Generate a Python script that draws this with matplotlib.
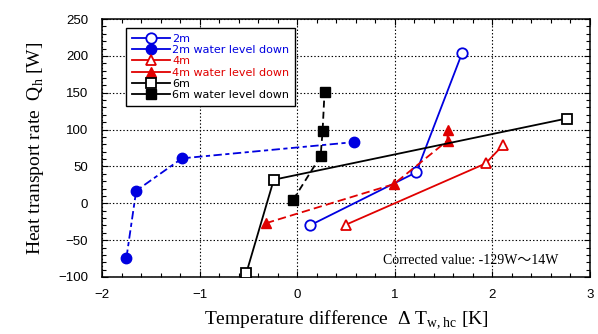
import matplotlib
matplotlib.use("Agg")
import matplotlib.pyplot as plt
from matplotlib.lines import Line2D
from matplotlib.ticker import MultipleLocator

plt.rcParams['lines.scale_dashes'] = False
plt.rcParams['mathtext.fontset'] = 'custom'
plt.rcParams['mathtext.rm'] = 'Liberation Serif'

BLUE = '#0000e0'
RED = '#e00000'
BLACK = '#000000'

# 2m
x_2m = [0.13, 1.22, 1.69]
y_2m = [-30, 42, 204]
x_2m_down = [-1.75, -1.65, -1.18, 0.58]
y_2m_down = [-74, 17, 61, 83]
# 4m
x_4m = [0.50, 1.93, 2.11]
y_4m = [-29, 54, 79]
x_4m_down = [-0.32, 0.99, 1.54, 1.54]
y_4m_down = [-27, 26, 85, 99]
# 6m
x_6m = [-0.52, -0.24, 2.76]
y_6m = [-94, 32, 115]
x_6m_down = [-0.04, 0.24, 0.26, 0.28]
y_6m_down = [5, 64, 98, 151]

labels = ['2m', '2m water level down', '4m', '4m water level down',
          '6m', '6m water level down']
x_ticks = [-2, -1, 0, 1, 2, 3]
y_ticks = [-100, -50, 0, 50, 100, 150, 200, 250]

fig = plt.figure(figsize=(5.98, 3.34), dpi=100)
ax = fig.add_axes([0.1706, 0.1707, 0.8160, 0.7723])

lw = 1.3
ms = 7.5
ax.plot(x_2m, y_2m, color=BLUE, lw=lw, marker='o', ms=ms,
        mfc='white', mec=BLUE, mew=1.3, zorder=4)
ax.plot(x_2m_down, y_2m_down, color=BLUE, lw=lw, marker='o', ms=ms,
        mfc=BLUE, mec=BLUE, dashes=(6, 2.5, 3, 2.5), zorder=4)
ax.plot(x_4m, y_4m, color=RED, lw=lw, marker='^', ms=ms,
        mfc='white', mec=RED, mew=1.3, zorder=4)
ax.plot(x_4m_down, y_4m_down, color=RED, lw=lw, marker='^', ms=ms,
        mfc=RED, mec=RED, dashes=(6, 3), zorder=4)
ax.plot(x_6m, y_6m, color=BLACK, lw=lw, marker='s', ms=ms,
        mfc='white', mec=BLACK, mew=1.3, zorder=4)
ax.plot(x_6m_down, y_6m_down, color=BLACK, lw=lw, marker='s', ms=ms,
        mfc=BLACK, mec=BLACK, dashes=(5, 3), zorder=4)

ax.set_xlim(-2, 3)
ax.set_ylim(-100, 250)
ax.set_xticks(x_ticks)
ax.set_xticklabels([str(t).replace('-', '\u2212') for t in x_ticks],
                   family='Liberation Sans')
ax.set_yticks(y_ticks)
ax.set_yticklabels([str(t).replace('-', '\u2212') for t in y_ticks],
                   family='Liberation Sans')
ax.xaxis.set_minor_locator(MultipleLocator(0.2))
ax.yaxis.set_minor_locator(MultipleLocator(10))
ax.tick_params(which='both', direction='in', top=True, right=True,
               width=0.8, labelsize=9.5)
ax.tick_params(which='major', length=4)
ax.tick_params(which='minor', length=3)
ax.tick_params(axis='x', which='major', pad=8.5)
ax.tick_params(axis='y', which='major', pad=10)
ax.grid(True, which='major', color='black', lw=0.8, ls=(0, (1, 1.5)))
for sp in ax.spines.values():
    sp.set_linewidth(1.1)

ax.set_xlabel('Temperature difference  \u0394 T$_{\\rm w,hc}$ [K]',
              family='Liberation Serif', fontsize=14, labelpad=5)
ax.set_ylabel('Heat transport rate  Q$_{\\rm h}$ [W]',
              family='Liberation Serif', fontsize=14, labelpad=9)

ax.text(0.88, -77, 'Corrected value: -129W\uff5e14W',
        family=['Liberation Serif', 'Noto Sans CJK JP'],
        fontsize=10, va='center', ha='left')

handles = [
    Line2D([], [], color=BLUE, lw=lw, marker='o', ms=ms, mfc='white', mec=BLUE, mew=1.3),
    Line2D([], [], color=BLUE, lw=lw, marker='o', ms=ms, mfc=BLUE, mec=BLUE),
    Line2D([], [], color=RED, lw=lw, marker='^', ms=ms, mfc='white', mec=RED, mew=1.3),
    Line2D([], [], color=RED, lw=lw, marker='^', ms=ms, mfc=RED, mec=RED),
    Line2D([], [], color=BLACK, lw=lw, marker='s', ms=ms, mfc='white', mec=BLACK, mew=1.3),
    Line2D([], [], color=BLACK, lw=lw, marker='s', ms=ms, mfc=BLACK, mec=BLACK),
]
leg = ax.legend(handles, labels, loc='upper left', bbox_to_anchor=(0.05, 0.965),
                fontsize=8, numpoints=1, handlelength=3.4, handletextpad=0.2,
                labelspacing=0.12, borderpad=0.5, fancybox=False, framealpha=1,
                edgecolor='black', borderaxespad=0)
leg.get_frame().set_linewidth(1.0)
for txt, c in zip(leg.get_texts(), [BLUE, BLUE, RED, RED, BLACK, BLACK]):
    txt.set_color(c)

fig.savefig('out.png', dpi=100)
